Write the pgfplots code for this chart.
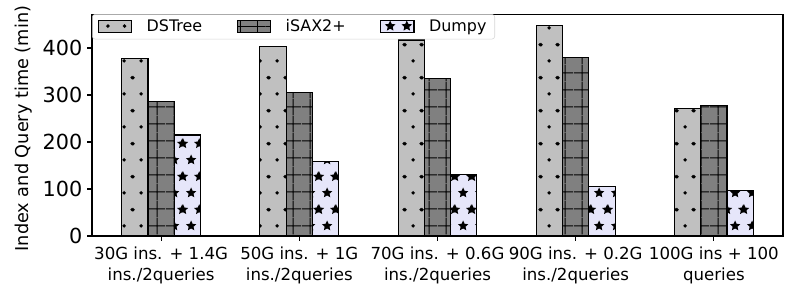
\documentclass[border=0pt]{standalone}
\usepackage{fontspec}
\setmainfont{DejaVu Sans}
\usepackage{pgfplots}
\pgfplotsset{compat=1.18}
\usetikzlibrary{patterns}

\definecolor{cSilver}{HTML}{C0C0C0}
\definecolor{cGray}{HTML}{808080}
\definecolor{cLav}{HTML}{E6E6FA}

\pgfdeclarepatternformonly{mydots}{\pgfpointorigin}{\pgfqpoint{12pt}{24pt}}{\pgfqpoint{12pt}{24pt}}{%
  \pgfpathcircle{\pgfqpoint{6pt}{6pt}}{1.4pt}%
  \pgfpathcircle{\pgfqpoint{0pt}{18pt}}{1.4pt}%
  \pgfpathcircle{\pgfqpoint{12pt}{18pt}}{1.4pt}%
  \pgfusepath{fill}}

\pgfdeclarepatternformonly{mygrid}{\pgfpointorigin}{\pgfqpoint{12pt}{12pt}}{\pgfqpoint{12pt}{12pt}}{%
  \pgfsetlinewidth{0.8pt}%
  \pgfpathmoveto{\pgfqpoint{0pt}{6pt}}\pgfpathlineto{\pgfqpoint{12pt}{6pt}}%
  \pgfpathmoveto{\pgfqpoint{6pt}{0pt}}\pgfpathlineto{\pgfqpoint{6pt}{12pt}}%
  \pgfusepath{stroke}}

\newcommand\mystar[2]{%
  \pgfpathmoveto{\pgfpointadd{\pgfqpoint{#1}{#2}}{\pgfpointpolar{90}{4pt}}}%
  \pgfpathlineto{\pgfpointadd{\pgfqpoint{#1}{#2}}{\pgfpointpolar{126}{1.9pt}}}%
  \pgfpathlineto{\pgfpointadd{\pgfqpoint{#1}{#2}}{\pgfpointpolar{162}{4pt}}}%
  \pgfpathlineto{\pgfpointadd{\pgfqpoint{#1}{#2}}{\pgfpointpolar{198}{1.9pt}}}%
  \pgfpathlineto{\pgfpointadd{\pgfqpoint{#1}{#2}}{\pgfpointpolar{234}{4pt}}}%
  \pgfpathlineto{\pgfpointadd{\pgfqpoint{#1}{#2}}{\pgfpointpolar{270}{1.9pt}}}%
  \pgfpathlineto{\pgfpointadd{\pgfqpoint{#1}{#2}}{\pgfpointpolar{306}{4pt}}}%
  \pgfpathlineto{\pgfpointadd{\pgfqpoint{#1}{#2}}{\pgfpointpolar{342}{1.9pt}}}%
  \pgfpathlineto{\pgfpointadd{\pgfqpoint{#1}{#2}}{\pgfpointpolar{18}{4pt}}}%
  \pgfpathlineto{\pgfpointadd{\pgfqpoint{#1}{#2}}{\pgfpointpolar{54}{1.9pt}}}%
  \pgfpathclose}

\pgfdeclarepatternformonly{mystars}{\pgfpointorigin}{\pgfqpoint{12pt}{24pt}}{\pgfqpoint{12pt}{24pt}}{%
  \mystar{6pt}{6pt}%
  \mystar{0pt}{18pt}%
  \mystar{12pt}{18pt}%
  \pgfusepath{fill}}

\begin{document}
\begin{tikzpicture}[x=1pt,y=1pt]
\useasboundingbox (-66.5,-46.25) rectangle (511.7,170.6);
\begin{axis}[
  at={(0,0)}, anchor=south west,
  scale only axis, width=499.4pt, height=160.4pt,
  ybar, bar width=0.19,
  xmin=-0.5, xmax=4.5, ymin=0, ymax=472,
  xtick={0,1,2,3,4},
  xticklabels={{30G ins. + 1.4G\\ins./2queries},{50G ins. + 1G\\ins./2queries},{70G ins. + 0.6G\\ins./2queries},{90G ins. + 0.2G\\ins./2queries},{100G ins + 100\\queries}},
  x tick label style={align=center, font=\fontsize{12}{15}\selectfont, yshift=-4.2pt},
  ytick={0,100,200,300,400},
  y tick label style={font=\fontsize{15}{17}\selectfont, xshift=-3.5pt},
  /pgf/number format/assume math mode=true,
  tick pos=left, tick align=inside,
  major tick length=-3.5pt,
  every tick/.style={black, line width=0.8pt},
  axis line style={line width=0.8pt},
  ylabel={Index and Query time (min)},
  ylabel style={font=\fontsize{12.8}{14}\selectfont, at={(axis description cs:-0.0925,0.484)}, anchor=base},
  legend style={at={(0,1)}, anchor=north west, legend columns=3,
    draw=black!20, rounded corners=2pt, fill=white, fill opacity=0.8, draw opacity=0.8, text opacity=1,
    font=\fontsize{11.5}{13}\selectfont,
    inner xsep=4pt, inner ysep=1.8pt,
    /tikz/every odd column/.append style={column sep=8.5pt},
    /tikz/every even column/.append style={column sep=23pt}},
  legend image code/.code={\draw[#1, sharp corners, line width=0.8pt, fill opacity=1, draw opacity=1] (0pt,-4.2pt) rectangle (24pt,4.2pt);},
]
\addplot[bar shift=-0.19, fill=cSilver, draw=black, line width=0.8pt, postaction={pattern=mydots, pattern color=black}]
  coordinates {(0,378) (1,404) (2,417) (3,447) (4,272)};
\addplot[bar shift=0, fill=cGray, draw=black, line width=0.8pt, postaction={pattern=mygrid, pattern color=black}]
  coordinates {(0,287) (1,306) (2,335) (3,380) (4,277)};
\addplot[bar shift=0.19, fill=cLav, draw=black, line width=0.8pt, postaction={pattern=mystars, pattern color=black}]
  coordinates {(0,215) (1,159) (2,130) (3,106) (4,96)};
\legend{DSTree, iSAX2+, Dumpy}
\end{axis}
\end{tikzpicture}
\end{document}
